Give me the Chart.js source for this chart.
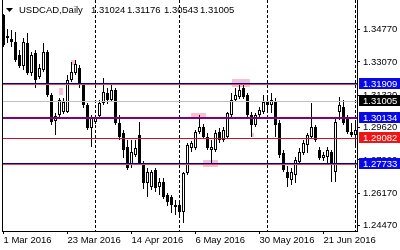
<!DOCTYPE html>
<html>
<head>
<meta charset="utf-8">
<script src="https://cdn.jsdelivr.net/npm/chart.js@4.4.1/dist/chart.umd.min.js"></script>
<style>
  html, body { margin: 0; padding: 0; background: #fff; }
  #wrap { width: 400px; height: 250px; }
</style>
</head>
<body>
<div id="wrap"><canvas id="chart" width="400" height="250"></canvas></div>
<script>
// USDCAD daily, 1 Mar 2016 .. 1 Jul 2016 (one entry per trading day)
const symbol = 'USDCAD,Daily';
const lastBar = ['1.31024', '1.31176', '1.30543', '1.31005'];

const opens = [
  1.3553, 1.3432, 1.3427, 1.3411, 1.3343, 1.3285, 1.3406, 1.3249, 1.3354, 1.3228,
  1.3264, 1.3359, 1.3133, 1.2997, 1.3028, 1.3044, 1.3044, 1.3212, 1.3249, 1.3275,
  1.3186, 1.3081, 1.2960, 1.2991, 1.3023, 1.3091, 1.3144, 1.3107, 1.3159, 1.2986,
  1.2934, 1.2860, 1.2766, 1.2818, 1.2923, 1.2776, 1.2671, 1.2650, 1.2739, 1.2650,
  1.2676, 1.2608, 1.2598, 1.2545, 1.2556, 1.2519, 1.2724, 1.2855, 1.2855, 1.2939,
  1.2965, 1.2913, 1.2844, 1.2844, 1.2939, 1.2897, 1.2913, 1.3028, 1.3107, 1.3123,
  1.3170, 1.3133, 1.3028, 1.2976, 1.3028, 1.3044, 1.3096, 1.3081, 1.3096, 1.2986,
  1.2829, 1.2729, 1.2687, 1.2713, 1.2781, 1.2829, 1.2871, 1.2913, 1.2965, 1.2844,
  1.2802, 1.2808, 1.2834, 1.2729, 1.3044, 1.3070, 1.3018, 1.2939, 1.2923
];
const highs = [
  1.3558, 1.3480, 1.3474, 1.3464, 1.3369, 1.3432, 1.3459, 1.3359, 1.3369, 1.3296,
  1.3406, 1.3369, 1.3144, 1.3039, 1.3117, 1.3117, 1.3238, 1.3306, 1.3317, 1.3291,
  1.3196, 1.3091, 1.3028, 1.3028, 1.3107, 1.3222, 1.3170, 1.3186, 1.3170, 1.3028,
  1.2949, 1.2897, 1.2897, 1.2897, 1.2991, 1.2787, 1.2750, 1.2739, 1.2750, 1.2697,
  1.2697, 1.2619, 1.2608, 1.2582, 1.2582, 1.2729, 1.2881, 1.2892, 1.2949, 1.3028,
  1.2981, 1.2934, 1.2897, 1.2949, 1.2960, 1.2965, 1.3044, 1.3144, 1.3170, 1.3186,
  1.3196, 1.3144, 1.3044, 1.3039, 1.3070, 1.3133, 1.3123, 1.3144, 1.3117, 1.3002,
  1.2844, 1.2760, 1.2750, 1.2808, 1.2855, 1.2897, 1.2934, 1.3091, 1.2976, 1.2860,
  1.2834, 1.2860, 1.2844, 1.3012, 1.3123, 1.3107, 1.3028, 1.2986, 1.2986
];
const lows = [
  1.3385, 1.3406, 1.3385, 1.3306, 1.3275, 1.3264, 1.3238, 1.3233, 1.3170, 1.3217,
  1.3254, 1.3123, 1.2976, 1.2923, 1.3018, 1.3033, 1.3039, 1.3201, 1.3238, 1.3170,
  1.3065, 1.2949, 1.2860, 1.2981, 1.3012, 1.3081, 1.3086, 1.3096, 1.2976, 1.2897,
  1.2802, 1.2739, 1.2750, 1.2808, 1.2766, 1.2640, 1.2598, 1.2634, 1.2624, 1.2608,
  1.2587, 1.2550, 1.2514, 1.2503, 1.2493, 1.2461, 1.2713, 1.2834, 1.2844, 1.2928,
  1.2902, 1.2844, 1.2776, 1.2834, 1.2881, 1.2886, 1.2902, 1.3018, 1.3096, 1.3112,
  1.3112, 1.3018, 1.2913, 1.2965, 1.3018, 1.3033, 1.3054, 1.3039, 1.2913, 1.2802,
  1.2729, 1.2650, 1.2661, 1.2671, 1.2766, 1.2818, 1.2829, 1.2902, 1.2886, 1.2792,
  1.2787, 1.2776, 1.2676, 1.2676, 1.3002, 1.2976, 1.2928, 1.2913, 1.2860
];
const closes = [
  1.3396, 1.3443, 1.3411, 1.3317, 1.3285, 1.3411, 1.3249, 1.3343, 1.3212, 1.3275,
  1.3359, 1.3133, 1.2991, 1.3023, 1.3107, 1.3096, 1.3212, 1.3254, 1.3296, 1.3196,
  1.3081, 1.2960, 1.3012, 1.3012, 1.3091, 1.3149, 1.3107, 1.3159, 1.2986, 1.2913,
  1.2844, 1.2750, 1.2834, 1.2855, 1.2776, 1.2671, 1.2729, 1.2729, 1.2645, 1.2676,
  1.2598, 1.2571, 1.2556, 1.2556, 1.2519, 1.2724, 1.2871, 1.2881, 1.2939, 1.2965,
  1.2913, 1.2855, 1.2860, 1.2934, 1.2897, 1.2949, 1.3039, 1.3107, 1.3133, 1.3159,
  1.3123, 1.3028, 1.2976, 1.3028, 1.3054, 1.3096, 1.3081, 1.3107, 1.2976, 1.2818,
  1.2739, 1.2697, 1.2729, 1.2792, 1.2834, 1.2881, 1.2923, 1.2965, 1.2897, 1.2802,
  1.2818, 1.2844, 1.2776, 1.2991, 1.3081, 1.2986, 1.2939, 1.2923, 1.2949
];

const dateTicks = [0, 16, 32, 48, 64, 80];
const dateLabels = ['1 Mar 2016', '23 Mar 2016', '14 Apr 2016', '6 May 2016', '30 May 2016', '21 Jun 2016'];
const monthStarts = [23, 44, 66, 88];

const priceTicks = [1.34770, 1.33070, 1.31320, 1.29620, 1.27920, 1.26170, 1.24470];
const supportLevels = [1.31909, 1.27733];
const pivotLevel = 1.30134;
const redLevel = 1.29082;
const bidPrice = 1.31005;

// pink marker boxes drawn on the chart: [fromBar, toBar, priceTop, priceBottom]
const markBoxes = [
  [16.9, 18.1, 1.3317, 1.3291],
  [13.9, 14.9, 1.3170, 1.3133],
  [57.1, 61.6, 1.3217, 1.3175],
  [46.9, 50.6, 1.3039, 1.3012],
  [49.9, 53.6, 1.2792, 1.2755],
  [61.9, 62.6, 1.2934, 1.2913]
];

const FONT = 'Liberation Sans, Arial, sans-serif';
Chart.defaults.font.family = FONT;
Chart.defaults.font.size = 9.5;
Chart.defaults.color = '#000';

const wicks = lows.map((l, i) => ({ x: i, y: [l, highs[i]] }));
const bodies = opens.map((o, i) => ({ x: i, y: [Math.min(o, closes[i]), Math.max(o, closes[i])] }));
const isUp = i => closes[i] >= opens[i];

const overlay = {
  id: 'overlay',
  beforeDatasetsDraw(chart) {
    const { ctx, chartArea: a, scales: { x, y } } = chart;
    ctx.save();
    ctx.fillStyle = 'rgba(240,150,180,0.6)';
    markBoxes.forEach(([b0, b1, p0, p1]) => {
      const x0 = x.getPixelForValue(b0), x1 = x.getPixelForValue(b1);
      const y0 = y.getPixelForValue(p0), y1 = y.getPixelForValue(p1);
      ctx.fillRect(x0, y0, x1 - x0, y1 - y0);
    });
    ctx.strokeStyle = '#000';
    ctx.lineWidth = 1;
    ctx.setLineDash([3, 2]);
    monthStarts.forEach(m => {
      const px = Math.floor(x.getPixelForValue(m)) + 0.5;
      ctx.beginPath();
      ctx.moveTo(px, a.top);
      ctx.lineTo(px, a.bottom);
      ctx.stroke();
    });
    ctx.restore();
  },
  afterDatasetsDraw(chart) {
    const { ctx, chartArea: a, scales: { y } } = chart;
    const w = a.right - a.left;
    ctx.save();
    ctx.fillStyle = '#c0c0c0';
    ctx.fillRect(a.left, Math.round(y.getPixelForValue(bidPrice)), w, 1);
    supportLevels.forEach(v => {
      const py = Math.round(y.getPixelForValue(v));
      ctx.fillStyle = '#00009c';
      ctx.fillRect(a.left, py - 1, w, 1);
      ctx.fillStyle = '#e04858';
      ctx.fillRect(a.left, py, w, 1);
    });
    ctx.fillStyle = '#800080';
    ctx.fillRect(a.left, Math.round(y.getPixelForValue(pivotLevel)) - 1, w, 2);
    ctx.fillStyle = '#d01030';
    ctx.fillRect(a.left, Math.round(y.getPixelForValue(redLevel)), w, 1);
    ctx.restore();
  },
  afterDraw(chart) {
    const { ctx, chartArea: a, scales: { y } } = chart;
    ctx.save();
    // left border
    ctx.fillStyle = '#000';
    ctx.fillRect(a.left, a.top, 1, a.bottom - a.top + 1);

    // price tags on the right axis
    const tag = (v, bg) => {
      const py = Math.round(y.getPixelForValue(v));
      ctx.fillStyle = bg;
      ctx.fillRect(a.right + 2, py - 6, 400 - a.right - 2, 11);
      ctx.fillStyle = '#fff';
      ctx.textBaseline = 'middle';
      ctx.textAlign = 'left';
      ctx.font = '9.5px ' + FONT;
      ctx.fillText(v.toFixed(5), a.right + 6, py);
    };
    supportLevels.forEach(v => tag(v, '#0a0ae6'));
    tag(pivotLevel, '#0a0ae6');
    tag(redLevel, '#f01414');
    tag(bidPrice, '#000');

    // header
    ctx.fillStyle = '#000';
    ctx.beginPath();
    ctx.moveTo(6, 8); ctx.lineTo(13, 8); ctx.lineTo(9.5, 12);
    ctx.closePath();
    ctx.fill();
    ctx.font = '9.5px ' + FONT;
    ctx.textBaseline = 'middle';
    ctx.textAlign = 'left';
    ctx.fillText(symbol, 19, 10.5);
    [91, 127, 164, 200].forEach((px, i) => ctx.fillText(lastBar[i], px, 10.5));
    ctx.restore();
  }
};

new Chart(document.getElementById('chart'), {
  type: 'bar',
  data: {
    datasets: [
      {
        data: bodies,
        order: 0,
        grouped: false,
        barThickness: 3,
        borderWidth: 1,
        borderSkipped: false,
        inflateAmount: 0,
        borderColor: '#000',
        backgroundColor: c => isUp(c.dataIndex) ? '#fff' : '#000'
      },
      {
        data: wicks,
        order: 1,
        grouped: false,
        barThickness: 1,
        borderWidth: 0,
        inflateAmount: 0,
        backgroundColor: '#000'
      }
    ]
  },
  options: {
    responsive: false,
    animation: false,
    layout: { padding: { left: 2, right: 0, top: 0, bottom: 0 } },
    plugins: { legend: { display: false }, tooltip: { enabled: false } },
    scales: {
      x: {
        type: 'linear',
        min: -0.375,
        max: 88.375,
        offset: false,
        afterBuildTicks: s => { s.ticks = dateTicks.map(v => ({ value: v })); },
        afterFit: s => { s.height = 19; s.paddingLeft = 0; s.paddingRight = 0; },
        ticks: {
          align: 'start',
          maxRotation: 0,
          autoSkip: false,
          padding: 1,
          color: '#000',
          callback: v => dateLabels[dateTicks.indexOf(v)]
        },
        grid: { offset: false, drawOnChartArea: false, tickLength: 3, color: '#000' },
        border: { display: true, color: '#000', width: 1 }
      },
      y: {
        position: 'right',
        min: 1.24192,
        max: 1.36319,
        afterBuildTicks: s => { s.ticks = priceTicks.map(v => ({ value: v })); },
        afterFit: s => { s.width = 43; s.paddingTop = 0; s.paddingBottom = 0; },
        ticks: {
          padding: 3,
          color: '#000',
          autoSkip: false,
          callback: v => v.toFixed(5)
        },
        grid: { drawOnChartArea: false, tickLength: 3, color: '#000' },
        border: { display: true, color: '#000', width: 1 }
      }
    }
  },
  plugins: [overlay]
});
</script>
</body>
</html>
